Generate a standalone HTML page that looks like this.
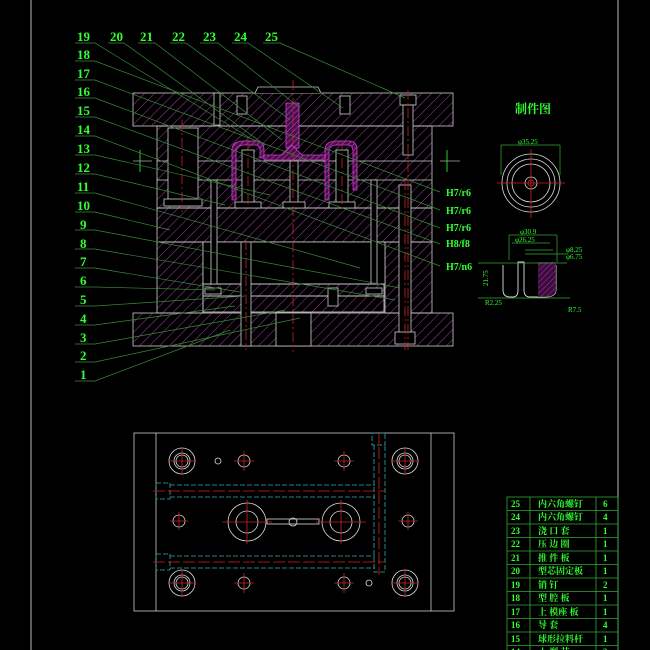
<!DOCTYPE html>
<html><head><meta charset="utf-8"><style>
html,body{margin:0;padding:0;background:#000;}
svg{display:block;}
text{font-family:"Liberation Serif","Noto Serif CJK SC",serif;fill:#3f3;}
</style></head><body>
<svg width="650" height="650" viewBox="0 0 650 650" xmlns="http://www.w3.org/2000/svg">
<defs>
<pattern id="h" width="7" height="7" patternUnits="userSpaceOnUse" patternTransform="rotate(45)">
<line x1="0" y1="0" x2="0" y2="7" stroke="#a040a0" stroke-width="1"/>
</pattern>
<pattern id="h2" width="4" height="4" patternUnits="userSpaceOnUse" patternTransform="rotate(45)">
<rect width="4" height="4" fill="#4a104a"/><line x1="0" y1="0" x2="0" y2="4" stroke="#d040d0" stroke-width="1"/>
</pattern>
</defs>
<rect width="650" height="650" fill="#000"/>
<line x1="31" y1="0" x2="31" y2="650" stroke="#bbb" stroke-width="1"/>
<line x1="618" y1="0" x2="618" y2="650" stroke="#bbb" stroke-width="1"/>

<g stroke="#ccc" stroke-width="0.8">
<rect x="133" y="93" width="320" height="33" fill="url(#h)"/>
<path d="M255 93 L258 87 L318 87 L321 93" fill="#000"/>
<rect x="157" y="126" width="275" height="82" fill="url(#h)"/>
<line x1="157" y1="161" x2="432" y2="161"/>
<line x1="157" y1="180" x2="432" y2="180"/>
<rect x="168" y="128" width="30" height="78" fill="#000"/>
<rect x="164" y="199" width="38" height="7" fill="#000"/>
<rect x="157" y="208" width="275" height="34" fill="url(#h)"/>
<rect x="157" y="242" width="46" height="71" fill="url(#h)"/>
<rect x="385" y="242" width="47" height="71" fill="url(#h)"/>
<rect x="203" y="242" width="182" height="42" fill="#000"/>
<rect x="203" y="284" width="181" height="12" fill="url(#h)"/>
<rect x="203" y="296" width="181" height="16" fill="url(#h)"/>
<rect x="133" y="313" width="320" height="33" fill="url(#h)"/>
<rect x="276" y="313" width="35" height="33" fill="#000"/>
<rect x="286" y="103" width="13" height="45" fill="url(#h2)" stroke="#d040d0"/>
<path d="M232 200 L232 150 Q232 141 244 141 L256 141 Q264 141 264 150 L264 158 L260 158 L260 150 Q260 145 255 145 L244 145 Q236 145 236 152 L236 200Z" fill="url(#h2)" stroke="#d040d0"/>
<path d="M325 200 L325 150 Q325 141 337 141 L349 141 Q357 141 357 150 L357 190 L353 190 L353 152 Q353 145 348 145 L337 145 Q329 145 329 152 L329 200Z" fill="url(#h2)" stroke="#d040d0"/>
<path d="M264 155 L282 155 L292 145 L302 155 L325 155 L325 160 L264 160Z" fill="url(#h2)" stroke="#d040d0"/>
<rect x="242" y="150" width="12" height="55" fill="#000"/>
<rect x="336" y="150" width="12" height="55" fill="#000"/>
<rect x="290" y="161" width="8" height="45" fill="#000"/>
<rect x="235" y="202" width="26" height="6" fill="#000"/>
<rect x="329" y="202" width="26" height="6" fill="#000"/>
<rect x="283" y="202" width="22" height="6" fill="#000"/>
<rect x="237" y="96" width="10" height="18" fill="#000"/>
<rect x="340" y="96" width="10" height="18" fill="#000"/>
<rect x="400" y="95" width="16" height="10" fill="#000"/>
<rect x="403" y="105" width="10" height="50" fill="#000"/>
<rect x="214" y="93" width="6" height="32" fill="#000"/>
<rect x="211" y="180" width="6" height="104" fill="#000"/>
<rect x="371" y="180" width="6" height="104" fill="#000"/>
<rect x="205" y="288" width="16" height="6" fill="#000"/>
<rect x="366" y="288" width="16" height="6" fill="#000"/>
<rect x="399" y="185" width="12" height="155" fill="#000"/>
<rect x="395" y="332" width="20" height="12" fill="#000"/>
<rect x="241" y="242" width="10" height="104" fill="#000"/>
<rect x="328" y="288" width="10" height="18" fill="#000"/>
</g>
<g stroke="#c22" stroke-width="0.8" stroke-dasharray="10,3,2,3">
<line x1="293" y1="80" x2="293" y2="352"/>
<line x1="182" y1="120" x2="182" y2="212"/>
<line x1="248" y1="140" x2="248" y2="210"/>
<line x1="342" y1="140" x2="342" y2="210"/>
<line x1="408" y1="90" x2="408" y2="350"/>
<line x1="246" y1="240" x2="246" y2="350"/>
<line x1="405" y1="180" x2="405" y2="350"/>
</g>
<g stroke="#3f3" stroke-width="0.8" fill="none">
<line x1="140" y1="150" x2="140" y2="172"/><line x1="133" y1="161" x2="152" y2="161" stroke="#aaa"/>
<line x1="447" y1="150" x2="447" y2="172"/><line x1="440" y1="161" x2="460" y2="161" stroke="#aaa"/>
</g>

<g stroke="#3a8a3a" stroke-width="0.7" fill="none">
<polyline points="75,43 95,43 250,138"/>
<polyline points="108,43 124,43 265,145"/>
<polyline points="138,43 155,43 282,140"/>
<polyline points="170,43 186,43 290,120"/>
<polyline points="200,43 218,43 300,108"/>
<polyline points="232,43 248,43 343,108"/>
<polyline points="263,43 280,43 405,98"/>
<polyline points="75,61 95,61 440,192"/>
<polyline points="75,80 95,80 440,210"/>
<polyline points="75,98 95,98 440,228"/>
<polyline points="75,117 95,117 440,244"/>
<polyline points="75,136 95,136 440,266"/>
<polyline points="75,155 95,155 270,195"/>
<polyline points="75,174 95,174 225,205"/>
<polyline points="75,193 95,193 360,268"/>
<polyline points="75,212 95,212 170,230"/>
<polyline points="75,230 95,230 400,288"/>
<polyline points="75,249 95,249 395,300"/>
<polyline points="75,268 95,268 240,292"/>
<polyline points="75,287 95,287 215,290"/>
<polyline points="75,306 95,306 245,296"/>
<polyline points="75,325 95,325 235,306"/>
<polyline points="75,344 95,344 285,310"/>
<polyline points="75,362 95,362 300,318"/>
<polyline points="75,381 95,381 230,330"/>
</g>
<g font-size="13" font-weight="bold">
<text x="77" y="41">19</text><text x="110" y="41">20</text><text x="140" y="41">21</text><text x="172" y="41">22</text><text x="203" y="41">23</text><text x="234" y="41">24</text><text x="265" y="41">25</text>
<text x="77" y="59">18</text><text x="77" y="78">17</text><text x="77" y="96">16</text><text x="77" y="115">15</text><text x="77" y="134">14</text><text x="77" y="153">13</text><text x="77" y="172">12</text><text x="77" y="191">11</text><text x="77" y="210">10</text>
<text x="80" y="229">9</text><text x="80" y="248">8</text><text x="80" y="266">7</text><text x="80" y="285">6</text><text x="80" y="304">5</text><text x="80" y="323">4</text><text x="80" y="342">3</text><text x="80" y="360">2</text><text x="80" y="379">1</text>
</g>
<g font-size="10" font-weight="bold">
<text x="446" y="196">H7/r6</text><text x="446" y="214">H7/r6</text><text x="446" y="231">H7/r6</text><text x="446" y="247">H8/f8</text><text x="446" y="270">H7/n6</text>
</g>

<text x="515" y="113" font-size="12" font-weight="bold">制件图</text>
<g fill="none">
<circle cx="531" cy="183" r="29" stroke="#ddd" stroke-width="0.8"/>
<circle cx="531" cy="183" r="24" stroke="#ddd" stroke-width="0.8"/>
<circle cx="531" cy="183" r="19" stroke="#ddd" stroke-width="0.8"/>
<circle cx="531" cy="183" r="6" stroke="#ddd" stroke-width="0.8"/>
<circle cx="531" cy="183" r="3" stroke="#c22" stroke-width="0.8"/>
<line x1="531" y1="149" x2="531" y2="218" stroke="#c22" stroke-width="0.8"/>
<line x1="497" y1="183" x2="565" y2="183" stroke="#c22" stroke-width="0.8"/>
<path d="M501 145 L560 145 M501 145 L501 175 M560 145 L560 175" stroke="#3a3" stroke-width="0.7"/>
<path d="M503 265 L503 290 Q503 297 510 297 L513 297 Q518 297 518 290 L518 262 L524 262 L524 290 Q524 297 530 297 L545 297 Q556 297 556 290 L556 265" stroke="#ddd" stroke-width="0.9"/>
<path d="M538 262 L556 262 L556 290 Q556 297 545 297 L538 297Z" fill="url(#h2)" stroke="none" opacity="0.8"/>
<path d="M509 235 L557 235 M509 235 L509 260 M557 235 L557 262 M512 243 L550 243 M525 250 L553 250 M525 254 L568 254 M478 263 L567 263 M478 298 L570 298" stroke="#3a3" stroke-width="0.7"/>
</g>
<g font-size="7">
<text x="518" y="144">φ35.25</text>
<text x="520" y="234">φ30.9</text>
<text x="515" y="242">φ26.25</text>
<text x="566" y="252">φ8.25</text>
<text x="566" y="259">φ6.75</text>
<text x="485" y="305">R2.25</text>
<text x="568" y="312">R7.5</text>
<text x="472" y="290" transform="rotate(-90 478 280)">21.75</text>
</g>

<g fill="none" stroke-width="0.8">
<rect x="134" y="433" width="320" height="178" stroke="#ccc"/>
<line x1="156" y1="433" x2="156" y2="611" stroke="#ccc"/>
<line x1="431" y1="433" x2="431" y2="611" stroke="#ccc"/>
<g stroke="#ddd">
<circle cx="182" cy="461" r="13"/><circle cx="182" cy="461" r="8"/><circle cx="182" cy="461" r="6"/>
<circle cx="405" cy="461" r="13"/><circle cx="405" cy="461" r="8"/><circle cx="405" cy="461" r="6"/>
<circle cx="182" cy="583" r="13"/><circle cx="182" cy="583" r="8"/><circle cx="182" cy="583" r="6"/>
<circle cx="405" cy="583" r="13"/><circle cx="405" cy="583" r="8"/><circle cx="405" cy="583" r="6"/>
<circle cx="247" cy="522" r="19"/><circle cx="247" cy="522" r="11"/>
<circle cx="341" cy="522" r="19"/><circle cx="341" cy="522" r="11"/>
<circle cx="244" cy="461" r="6"/><circle cx="344" cy="461" r="6"/>
<circle cx="244" cy="583" r="6"/><circle cx="344" cy="583" r="6"/>
<circle cx="179" cy="521" r="6"/><circle cx="408" cy="521" r="6"/>
<circle cx="293" cy="522" r="4"/><circle cx="218" cy="461" r="3"/><circle cx="369" cy="583" r="3"/>
<rect x="267" y="519" width="52" height="5"/>
</g>
<g stroke="#3aa" stroke-dasharray="5,2">
<rect x="156" y="483" width="14" height="16"/>
<rect x="156" y="554" width="14" height="16"/>
<path d="M170 485 L375 485 M170 497 L375 497 M170 556 L375 556 M170 568 L375 568"/>
<rect x="372" y="433" width="13" height="12"/>
<path d="M374 445 L374 572 L385 572 L385 445"/>
</g>
<g stroke="#c22">
<path d="M168 461 L196 461 M182 447 L182 475 M391 461 L419 461 M405 447 L405 475 M168 583 L196 583 M182 569 L182 597 M391 583 L419 583 M405 569 L405 597"/>
<path d="M222 522 L272 522 M247 500 L247 544 M316 522 L366 522 M341 500 L341 544"/>
<path d="M234 461 L254 461 M244 451 L244 471 M334 461 L354 461 M344 451 L344 471 M234 583 L254 583 M244 573 L244 593 M334 583 L354 583 M344 573 L344 593 M170 521 L188 521 M179 512 L179 530 M398 521 L418 521 M408 512 L408 530"/>
<path d="M153 491 L385 491 M153 562 L385 562 M379 432 L379 575" stroke-dasharray="12,3"/>
</g>
</g>

<g stroke="#3a3" stroke-width="0.8" fill="none">
<rect x="507" y="497" width="111" height="160"/>
<line x1="530" y1="497" x2="530" y2="650"/><line x1="596" y1="497" x2="596" y2="650"/>
<path d="M507 510.5H618 M507 524H618 M507 537.5H618 M507 551H618 M507 564.5H618 M507 578H618 M507 591.5H618 M507 605H618 M507 618.5H618 M507 632H618 M507 645.5H618"/>
</g>
<g font-size="9" font-weight="bold">
<text x="511" y="507">25</text><text x="538" y="507">内六角螺钉</text><text x="603" y="507">6</text>
<text x="511" y="520">24</text><text x="538" y="520">内六角螺钉</text><text x="603" y="520">4</text>
<text x="511" y="534">23</text><text x="538" y="534">浇 口 套</text><text x="603" y="534">1</text>
<text x="511" y="547">22</text><text x="538" y="547">压 边 圈</text><text x="603" y="547">1</text>
<text x="511" y="561">21</text><text x="538" y="561">推 件 板</text><text x="603" y="561">1</text>
<text x="511" y="574">20</text><text x="538" y="574">型芯固定板</text><text x="603" y="574">1</text>
<text x="511" y="588">19</text><text x="538" y="588">销    钉</text><text x="603" y="588">2</text>
<text x="511" y="601">18</text><text x="538" y="601">型 腔 板</text><text x="603" y="601">1</text>
<text x="511" y="615">17</text><text x="538" y="615">上 模座 板</text><text x="603" y="615">1</text>
<text x="511" y="628">16</text><text x="538" y="628">导    套</text><text x="603" y="628">4</text>
<text x="511" y="642">15</text><text x="538" y="642">球形拉料杆</text><text x="603" y="642">1</text>
<text x="511" y="655">14</text><text x="538" y="655">小 型 芯</text><text x="603" y="655">2</text>
</g>
</svg>
</body></html>
